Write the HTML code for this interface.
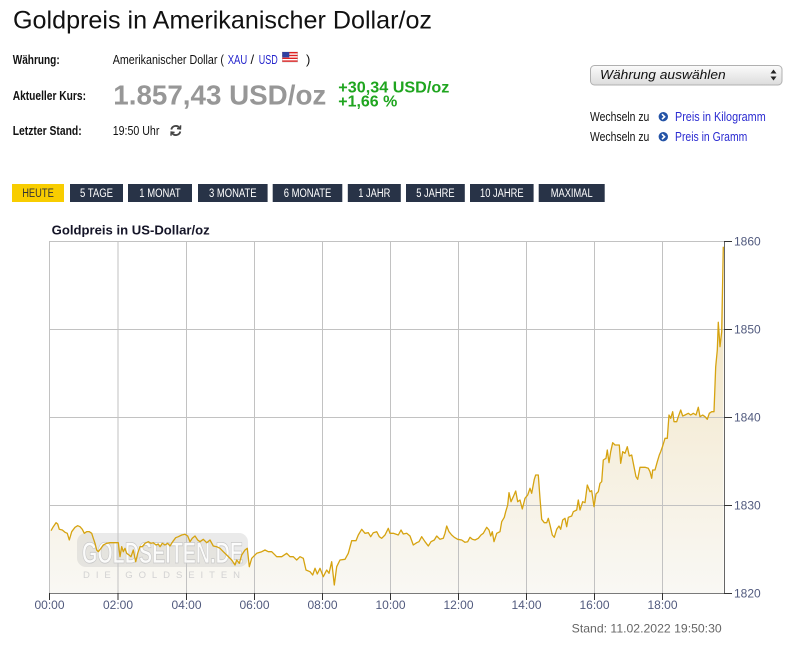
<!DOCTYPE html>
<html><head><meta charset="utf-8"><style>
html,body{margin:0;padding:0;background:#fff;}
svg{display:block;}
</style></head><body>
<svg width="786" height="660" viewBox="0 0 786 660" xmlns="http://www.w3.org/2000/svg" font-family="Liberation Sans, Arial, sans-serif">
<defs>
<linearGradient id="fg" gradientUnits="userSpaceOnUse" x1="0" y1="241" x2="0" y2="593">
<stop offset="0" stop-color="#efdfb6"/>
<stop offset="0.5" stop-color="#f5edd9"/>
<stop offset="1" stop-color="#f9f8f4"/>
</linearGradient>
<linearGradient id="sel" x1="0" y1="0" x2="0" y2="1">
<stop offset="0" stop-color="#fbfbfb"/><stop offset="1" stop-color="#dcdcdc"/>
</linearGradient>
</defs>

<!-- Header -->
<text x="13" y="28.5" font-size="25" fill="#111" textLength="419" lengthAdjust="spacingAndGlyphs">Goldpreis in Amerikanischer Dollar/oz</text>

<text x="12.7" y="64" font-size="13" font-weight="bold" fill="#111" textLength="47" lengthAdjust="spacingAndGlyphs">Währung:</text>
<text x="112.7" y="64" font-size="13" fill="#111" textLength="111.3" lengthAdjust="spacingAndGlyphs">Amerikanischer Dollar (</text>
<text x="227.7" y="64" font-size="13" fill="#2424cc" textLength="19.6" lengthAdjust="spacingAndGlyphs">XAU</text>
<text x="250.5" y="64" font-size="13" fill="#111">/</text>
<text x="258.7" y="64" font-size="13" fill="#2424cc" textLength="19" lengthAdjust="spacingAndGlyphs">USD</text>
<g transform="translate(282.3,52)">
<rect width="15.3" height="10" fill="#fff" stroke="#bbb" stroke-width="0.5"/>
<rect y="0" width="15.3" height="1.4" fill="#d22"/><rect y="2.8" width="15.3" height="1.4" fill="#d22"/>
<rect y="5.6" width="15.3" height="1.4" fill="#d22"/><rect y="8.4" width="15.3" height="1.4" fill="#d22"/>
<rect width="7" height="5.4" fill="#3040a0"/>
</g>
<text x="306" y="64" font-size="13" fill="#111">)</text>

<text x="12.7" y="100" font-size="13" font-weight="bold" fill="#111" textLength="73.3" lengthAdjust="spacingAndGlyphs">Aktueller Kurs:</text>
<text x="113.3" y="104.3" font-size="27.5" font-weight="bold" fill="#979797" textLength="213" lengthAdjust="spacingAndGlyphs">1.857,43 USD/oz</text>
<text x="338.3" y="92.5" font-size="15.5" font-weight="bold" fill="#1fa51f" textLength="111" lengthAdjust="spacingAndGlyphs">+30,34 USD/oz</text>
<text x="338.3" y="106.5" font-size="15.5" font-weight="bold" fill="#1fa51f" textLength="59" lengthAdjust="spacingAndGlyphs">+1,66 %</text>

<text x="12.7" y="135" font-size="13" font-weight="bold" fill="#111" textLength="69" lengthAdjust="spacingAndGlyphs">Letzter Stand:</text>
<text x="112.7" y="135" font-size="13" fill="#111" textLength="46.7" lengthAdjust="spacingAndGlyphs">19:50 Uhr</text>
<g transform="translate(175.8,130.5)" fill="none" stroke="#444" stroke-width="1.8">
<path d="M-4.5,-1 A4.6,4.6 0 0 1 3.8,-2.5"/>
<path d="M4.5,1 A4.6,4.6 0 0 1 -3.8,2.5"/>
<path d="M4.8,-5.2 L4.6,-1.6 L1.2,-2" stroke-width="1.5"/>
<path d="M-4.8,5.2 L-4.6,1.6 L-1.2,2" stroke-width="1.5"/>
</g>

<!-- Right side -->
<rect x="590.5" y="65.5" width="191.5" height="19.5" rx="4" fill="url(#sel)" stroke="#b0b0b0"/>
<text x="600" y="79" font-size="13" font-style="italic" fill="#111" textLength="125.7" lengthAdjust="spacingAndGlyphs">Währung auswählen</text>
<path d="M770.5,73.5 L773.5,69.5 L776.5,73.5 Z M770.5,76.5 L773.5,80.5 L776.5,76.5 Z" fill="#222"/>

<text x="590" y="121" font-size="13" fill="#111" textLength="59.3" lengthAdjust="spacingAndGlyphs">Wechseln zu</text>
<circle cx="663.3" cy="116.7" r="4.7" fill="#2453a6"/>
<path d="M662,114.2 L664.6,116.7 L662,119.2" fill="none" stroke="#fff" stroke-width="1.6"/>
<text x="675" y="121" font-size="13" fill="#2b2bd1" textLength="90.7" lengthAdjust="spacingAndGlyphs">Preis in Kilogramm</text>
<text x="590" y="141" font-size="13" fill="#111" textLength="59.3" lengthAdjust="spacingAndGlyphs">Wechseln zu</text>
<circle cx="663.3" cy="136.7" r="4.7" fill="#2453a6"/>
<path d="M662,134.2 L664.6,136.7 L662,139.2" fill="none" stroke="#fff" stroke-width="1.6"/>
<text x="675" y="141" font-size="13" fill="#2b2bd1" textLength="72.3" lengthAdjust="spacingAndGlyphs">Preis in Gramm</text>

<!-- Buttons -->
<g font-size="11.5" text-anchor="middle">
<rect x="12" y="184" width="52" height="18" fill="#f8cd00"/>
<text x="38" y="197" fill="#333" textLength="31.6" lengthAdjust="spacingAndGlyphs">HEUTE</text>
<g fill="#283347">
<rect x="70" y="184" width="53" height="18"/>
<rect x="128" y="184" width="64" height="18"/>
<rect x="198" y="184" width="69.6" height="18"/>
<rect x="272.7" y="184" width="69.6" height="18"/>
<rect x="347.8" y="184" width="53" height="18"/>
<rect x="406" y="184" width="58.8" height="18"/>
<rect x="470" y="184" width="63.6" height="18"/>
<rect x="538.7" y="184" width="66" height="18"/>
</g>
<g fill="#fff">
<text x="96.5" y="197" textLength="33.1" lengthAdjust="spacingAndGlyphs">5 TAGE</text>
<text x="160" y="197" textLength="41.4" lengthAdjust="spacingAndGlyphs">1 MONAT</text>
<text x="232.8" y="197" textLength="47.6" lengthAdjust="spacingAndGlyphs">3 MONATE</text>
<text x="307.5" y="197" textLength="47.6" lengthAdjust="spacingAndGlyphs">6 MONATE</text>
<text x="374.3" y="197" textLength="32.1" lengthAdjust="spacingAndGlyphs">1 JAHR</text>
<text x="435.4" y="197" textLength="38.3" lengthAdjust="spacingAndGlyphs">5 JAHRE</text>
<text x="501.8" y="197" textLength="43.5" lengthAdjust="spacingAndGlyphs">10 JAHRE</text>
<text x="571.7" y="197" textLength="41.9" lengthAdjust="spacingAndGlyphs">MAXIMAL</text>
</g>
</g>

<!-- Chart -->
<text x="51.7" y="234.5" font-size="13" font-weight="bold" fill="#151528" textLength="158" lengthAdjust="spacingAndGlyphs">Goldpreis in US-Dollar/oz</text>

<!-- fill -->
<path fill="url(#fg)" d="M50,530.7 L51,530.7 L53.3,526.7 L56,522.7 L57.7,524 L59.3,529.3 L62.3,530 L65,532.3 L67.3,533.3 L69.3,540 L71.7,531.7 L75,527.3 L77.7,525.7 L80,526.7 L82.3,529.3 L84.3,533.3 L86.7,531.7 L89.3,531.7 L91.7,533.3 L93.3,538.3 L95,543.3 L96.7,550 L98.3,551.7 L101,548.3 L103.3,545 L106.7,543.3 L110,542.7 L115.7,542.7 L118.3,542.7 L120,556.7 L121.7,546.7 L123.3,551.7 L125,548.3 L126.7,553.3 L129,555 L131,556.7 L133.3,550 L135.7,561.7 L137.7,553.3 L140,546.7 L142.3,546.7 L145,543.3 L148.3,541.7 L151,543.3 L153.3,542.7 L156,545 L158.3,544 L160,546.7 L162.3,543.3 L165,545 L167.7,543.3 L170,546 L172.7,541.7 L175.7,537.7 L178.3,536.7 L181.7,535 L185,534.3 L187.7,536 L190,541.7 L192.3,538.3 L195,536 L197.7,540 L200,541.7 L203.3,539.3 L206.7,542.7 L210,540 L213.3,546 L216.7,546.7 L220,548.3 L223.3,551.7 L226.7,555 L231.7,560 L235,565 L236.7,560 L239.3,563.3 L241.7,555 L245,550 L247.3,548.3 L249.3,566.7 L251.7,558.3 L256.7,553.3 L261.7,551.7 L265,550 L268.3,551.7 L271.7,551.7 L276.7,556.7 L281.7,556.7 L286.7,553.3 L290,556.7 L293.3,556.7 L296.7,560 L300,556.7 L303.3,558.3 L306,570 L310,571.7 L312.7,575 L315,568.3 L317.3,574 L320,568.3 L323.3,576.7 L326.7,570 L329,573.3 L331.7,561.7 L334.3,585 L336.7,566.7 L340,560 L345,559.3 L348.3,553.3 L351.7,540.7 L356,540.7 L358.3,535 L361.7,529.3 L365,533.3 L368.3,532.7 L370.7,536.7 L373.3,532.7 L376.7,531.7 L379.3,536.7 L381.7,538.3 L385,535 L388.3,528.3 L390,533.3 L393.3,533.3 L398.3,535 L401,530 L403.3,534 L406.7,533.3 L410,536 L413.3,545 L416.7,542.7 L419,541.7 L421.7,536.7 L425,541.7 L428.3,546 L431,541.7 L434.3,540 L436.7,536 L440,539.3 L443.3,538.3 L445,533.3 L446.7,526 L449,531.7 L451.7,535 L454.3,537.3 L457.7,539.3 L461.7,540 L465,542.3 L467.7,541.7 L470,537.3 L472.3,539.3 L475,540 L478.3,538.3 L481,535 L483.3,533.3 L486.7,527.3 L489,530 L490.7,536 L492.3,531.7 L494,541.7 L496.7,533.3 L500,531.7 L501.7,521.7 L504.3,517.3 L505.7,511.7 L507.7,505 L509,492.7 L511,501.7 L513.3,496.7 L515.7,491 L517.7,501.7 L520,500 L522.3,509 L525,498.3 L527.7,495 L530,488.3 L531.7,493.3 L534.3,479.3 L535.7,475 L538.3,475 L540,498.3 L541.7,519.3 L544.3,522.7 L546.7,522.7 L548.3,518.3 L550,525 L552.3,535 L554.3,537.3 L556.7,529.3 L559,526 L560.7,529.3 L562.7,520 L565,518.3 L566.7,526.7 L568.3,517.3 L571.7,516 L573.3,511.7 L576.7,510 L578.3,500 L580,510 L582.7,501.7 L585,502.7 L587.3,485 L590,491.7 L591.7,490.7 L594,506.7 L596,494 L598.3,491.7 L600,483.3 L601.7,481.7 L603.3,460 L606,458.3 L607.3,450 L609,462.7 L610.7,451.7 L612.7,442.7 L615,445 L619.3,445 L620.7,463.3 L622.7,451.7 L625,453.3 L627.3,446.7 L629.3,456 L631.7,455 L634,466.7 L636,476.7 L637.7,479.3 L640,467.3 L645,467.3 L648.3,468.3 L650,471.7 L651.7,478.3 L652.7,470 L655,470 L657.3,461.7 L659.3,455 L660.7,451.7 L662.7,446 L665,438.3 L667.3,438.3 L669,415 L670.7,418.3 L672.7,411.7 L674,421.7 L676.7,421.7 L678.3,416.7 L680.7,410 L682.7,416 L685,415 L688.3,413.3 L690.7,415 L693.3,413.3 L696,415 L698.3,407.3 L700,416.7 L702.7,415 L705,416.7 L707.3,419.3 L709.3,413.3 L711.7,411.7 L714,411.7 L715.7,366.7 L717.3,350 L718.3,322.3 L720,346.7 L721.7,331.7 L723.3,246.7 L723.5,593 L50,593 Z"/>

<!-- grid -->
<g stroke="#c2c2c2" stroke-width="1" fill="none">
<path d="M49.5,241 V593 M118,241 V593 M186.5,241 V593 M254.5,241 V593 M322.5,241 V593 M390.5,241 V593 M458.5,241 V593 M526.5,241 V593 M594.5,241 V593 M662.5,241 V593"/>
<path d="M49.5,241.5 H724 M49.5,329.5 H724 M49.5,417.5 H724 M49.5,505.5 H724"/>
</g>

<!-- watermark -->
<g>
<rect x="77" y="533" width="171" height="34" rx="9" fill="#c4c4c4" opacity="0.35"/>
<text x="82" y="563" font-size="30" font-weight="bold" fill="#ffffff" fill-opacity="0.85" stroke="#c8c8c8" stroke-width="0.8" textLength="161" lengthAdjust="spacingAndGlyphs">GOLDSEITEN.DE</text>
<text x="83" y="578" font-size="9.5" fill="#d2d2d2" textLength="157" lengthAdjust="spacing">DIE GOLDSEITEN</text>
</g>

<!-- line -->
<path fill="none" stroke="#d6a310" stroke-width="1.3" stroke-linejoin="round" d="M51,530.7 L53.3,526.7 L56,522.7 L57.7,524 L59.3,529.3 L62.3,530 L65,532.3 L67.3,533.3 L69.3,540 L71.7,531.7 L75,527.3 L77.7,525.7 L80,526.7 L82.3,529.3 L84.3,533.3 L86.7,531.7 L89.3,531.7 L91.7,533.3 L93.3,538.3 L95,543.3 L96.7,550 L98.3,551.7 L101,548.3 L103.3,545 L106.7,543.3 L110,542.7 L115.7,542.7 L118.3,542.7 L120,556.7 L121.7,546.7 L123.3,551.7 L125,548.3 L126.7,553.3 L129,555 L131,556.7 L133.3,550 L135.7,561.7 L137.7,553.3 L140,546.7 L142.3,546.7 L145,543.3 L148.3,541.7 L151,543.3 L153.3,542.7 L156,545 L158.3,544 L160,546.7 L162.3,543.3 L165,545 L167.7,543.3 L170,546 L172.7,541.7 L175.7,537.7 L178.3,536.7 L181.7,535 L185,534.3 L187.7,536 L190,541.7 L192.3,538.3 L195,536 L197.7,540 L200,541.7 L203.3,539.3 L206.7,542.7 L210,540 L213.3,546 L216.7,546.7 L220,548.3 L223.3,551.7 L226.7,555 L231.7,560 L235,565 L236.7,560 L239.3,563.3 L241.7,555 L245,550 L247.3,548.3 L249.3,566.7 L251.7,558.3 L256.7,553.3 L261.7,551.7 L265,550 L268.3,551.7 L271.7,551.7 L276.7,556.7 L281.7,556.7 L286.7,553.3 L290,556.7 L293.3,556.7 L296.7,560 L300,556.7 L303.3,558.3 L306,570 L310,571.7 L312.7,575 L315,568.3 L317.3,574 L320,568.3 L323.3,576.7 L326.7,570 L329,573.3 L331.7,561.7 L334.3,585 L336.7,566.7 L340,560 L345,559.3 L348.3,553.3 L351.7,540.7 L356,540.7 L358.3,535 L361.7,529.3 L365,533.3 L368.3,532.7 L370.7,536.7 L373.3,532.7 L376.7,531.7 L379.3,536.7 L381.7,538.3 L385,535 L388.3,528.3 L390,533.3 L393.3,533.3 L398.3,535 L401,530 L403.3,534 L406.7,533.3 L410,536 L413.3,545 L416.7,542.7 L419,541.7 L421.7,536.7 L425,541.7 L428.3,546 L431,541.7 L434.3,540 L436.7,536 L440,539.3 L443.3,538.3 L445,533.3 L446.7,526 L449,531.7 L451.7,535 L454.3,537.3 L457.7,539.3 L461.7,540 L465,542.3 L467.7,541.7 L470,537.3 L472.3,539.3 L475,540 L478.3,538.3 L481,535 L483.3,533.3 L486.7,527.3 L489,530 L490.7,536 L492.3,531.7 L494,541.7 L496.7,533.3 L500,531.7 L501.7,521.7 L504.3,517.3 L505.7,511.7 L507.7,505 L509,492.7 L511,501.7 L513.3,496.7 L515.7,491 L517.7,501.7 L520,500 L522.3,509 L525,498.3 L527.7,495 L530,488.3 L531.7,493.3 L534.3,479.3 L535.7,475 L538.3,475 L540,498.3 L541.7,519.3 L544.3,522.7 L546.7,522.7 L548.3,518.3 L550,525 L552.3,535 L554.3,537.3 L556.7,529.3 L559,526 L560.7,529.3 L562.7,520 L565,518.3 L566.7,526.7 L568.3,517.3 L571.7,516 L573.3,511.7 L576.7,510 L578.3,500 L580,510 L582.7,501.7 L585,502.7 L587.3,485 L590,491.7 L591.7,490.7 L594,506.7 L596,494 L598.3,491.7 L600,483.3 L601.7,481.7 L603.3,460 L606,458.3 L607.3,450 L609,462.7 L610.7,451.7 L612.7,442.7 L615,445 L619.3,445 L620.7,463.3 L622.7,451.7 L625,453.3 L627.3,446.7 L629.3,456 L631.7,455 L634,466.7 L636,476.7 L637.7,479.3 L640,467.3 L645,467.3 L648.3,468.3 L650,471.7 L651.7,478.3 L652.7,470 L655,470 L657.3,461.7 L659.3,455 L660.7,451.7 L662.7,446 L665,438.3 L667.3,438.3 L669,415 L670.7,418.3 L672.7,411.7 L674,421.7 L676.7,421.7 L678.3,416.7 L680.7,410 L682.7,416 L685,415 L688.3,413.3 L690.7,415 L693.3,413.3 L696,415 L698.3,407.3 L700,416.7 L702.7,415 L705,416.7 L707.3,419.3 L709.3,413.3 L711.7,411.7 L714,411.7 L715.7,366.7 L717.3,350 L718.3,322.3 L720,346.7 L721.7,331.7 L723.3,246.7"/>

<!-- axes -->
<path d="M49.5,593.5 H724" stroke="#7a7a7a" stroke-width="1"/>
<path d="M724.5,241 V594" stroke="#666" stroke-width="1"/>
<g stroke="#333" stroke-width="1">
<path d="M49.5,593 V600 M118,593 V600 M186.5,593 V600 M254.5,593 V600 M322.5,593 V600 M390.5,593 V600 M458.5,593 V600 M526.5,593 V600 M594.5,593 V600 M662.5,593 V600"/>
<path d="M724,241.5 H732 M724,329.5 H732 M724,417.5 H732 M724,505.5 H732 M724,593.5 H732"/>
</g>

<g font-size="12" fill="#515a7e" text-anchor="middle">
<text x="49.5" y="609">00:00</text>
<text x="118" y="609">02:00</text>
<text x="186.5" y="609">04:00</text>
<text x="254.5" y="609">06:00</text>
<text x="322.5" y="609">08:00</text>
<text x="390.5" y="609">10:00</text>
<text x="458.5" y="609">12:00</text>
<text x="526.5" y="609">14:00</text>
<text x="594.5" y="609">16:00</text>
<text x="662.5" y="609">18:00</text>
</g>
<g font-size="12" fill="#515a7e">
<text x="734" y="245.5">1860</text>
<text x="734" y="333.5">1850</text>
<text x="734" y="421.5">1840</text>
<text x="734" y="509.5">1830</text>
<text x="734" y="597.5">1820</text>
</g>

<text x="571.7" y="632.5" font-size="12" fill="#666" textLength="150" lengthAdjust="spacingAndGlyphs">Stand: 11.02.2022 19:50:30</text>
</svg>
</body></html>
